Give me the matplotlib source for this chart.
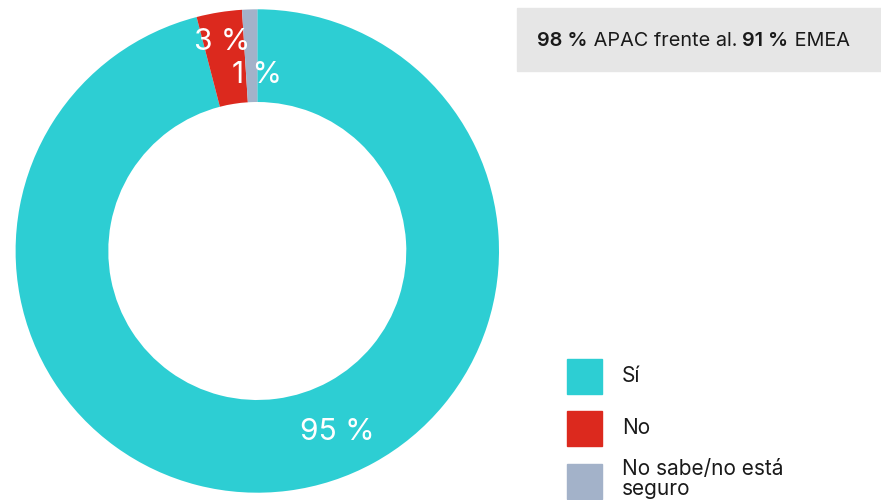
import matplotlib
matplotlib.use("Agg")
import matplotlib.pyplot as plt
from matplotlib.patches import Rectangle
import numpy as np

plt.rcParams['font.family'] = ['Inter', 'DejaVu Sans']

# Survey answers
categories = ["Sí", "No", "No sabe/no está\nseguro"]
values = [95, 3, 1]
value_labels = ["95 %", "3 %", "1 %"]
colors = ["#2dced3", "#dc291e", "#a3b2c9"]

# Regional comparison callout
callout_parts = [("98 %", "semibold"), (" APAC frente al. ", "normal"),
                 ("91 %", "semibold"), (" EMEA", "normal")]

W, H = 881, 500
fig = plt.figure(figsize=(W / 100, H / 100), dpi=100)

# Donut axes: centre at (257.3, 251) px from top-left, outer radius 241.7 px
cx, cy, R = 257.3, H - 251, 241.7
ax = fig.add_axes([(cx - R) / W, (cy - R) / H, 2 * R / W, 2 * R / H])
wedges, _ = ax.pie(values, colors=colors, startangle=90, counterclock=False,
                   radius=1.0, wedgeprops=dict(width=1 - 149 / 241.7,
                                               linewidth=0))
ax.set_xlim(-1, 1)
ax.set_ylim(-1, 1)
ax.set_aspect("equal")
ax.axis("off")

# Value labels placed along each wedge (angle in degrees, radius fraction)
label_pos = [(-66.2, 0.818), (99.6, 0.876), (90.0, 0.728)]
for lab, (ang, r) in zip(value_labels, label_pos):
    t = np.deg2rad(ang)
    ax.text(r * np.cos(t), r * np.sin(t), lab, color="white",
            fontsize=21.6, ha="center", va="center")

# Callout box
fig.patches.append(Rectangle((517 / W, 1 - 71 / H), (W - 517) / W, 63 / H,
                             transform=fig.transFigure, color="#e6e6e6",
                             zorder=0))
fig.canvas.draw()
renderer = fig.canvas.get_renderer()
x = 537
for txt, wt in callout_parts:
    tt = fig.text(x / W, 1 - 38.5 / H, txt, fontsize=14.3, fontweight=wt,
                  color="#1a1a1a", ha="left", va="center_baseline")
    bb = tt.get_window_extent(renderer=renderer)
    x += bb.width

# Legend: swatch centres and text centres (px from top)
swatch_y = [376, 428, 481]
text_y = [376, 428, 479]
for cat, col, sy, ty in zip(categories, colors, swatch_y, text_y):
    fig.patches.append(Rectangle((567 / W, 1 - (sy + 17.5) / H),
                                 35 / W, 35 / H,
                                 transform=fig.transFigure, color=col))
    fig.text(622 / W, 1 - ty / H, cat, fontsize=15, color="#1a1a1a",
             ha="left", va="center", linespacing=0.95)

fig.savefig("out.png", dpi=100)
